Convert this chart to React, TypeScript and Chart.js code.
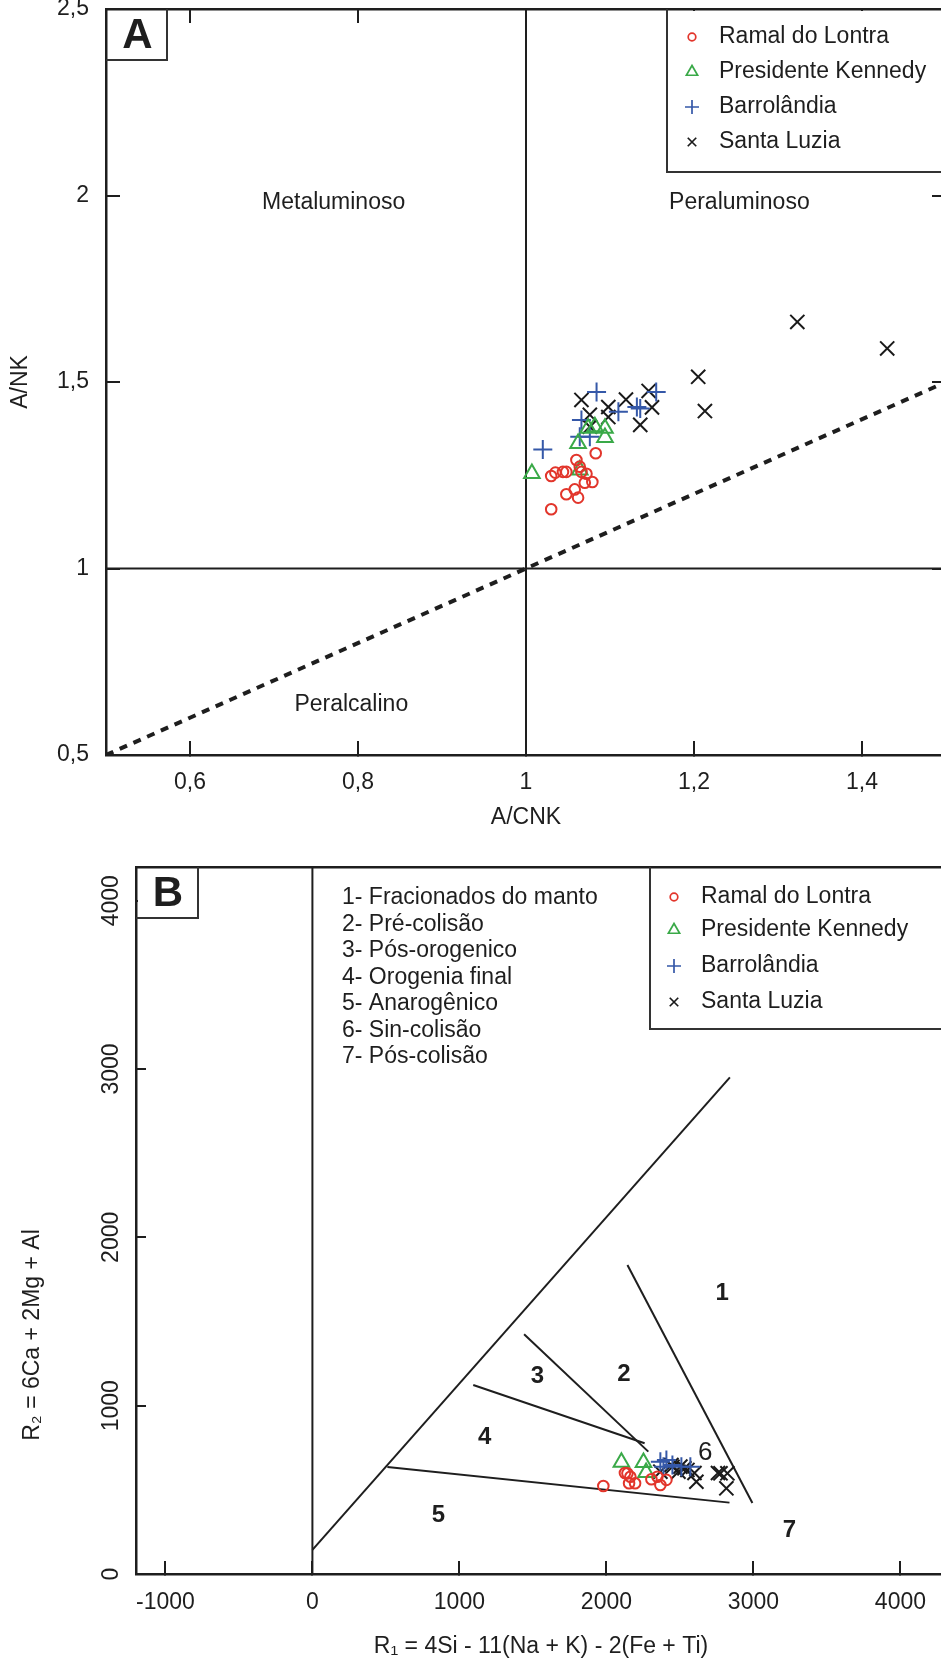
import React, { useEffect, useRef } from 'react';
import { Chart, registerables } from 'chart.js';

Chart.register(...registerables);

const FONT = "'Liberation Sans', Arial, Helvetica, sans-serif";
const INK = '#1e1e1e';
const RED = '#e2352b';
const GREEN = '#3aa948';
const BLUE = '#3558a8';
const BLACK = '#1a1a1a';

type Pt = [number, number];

// ---------------- Panel A : A/NK vs A/CNK ----------------
const xTicksA = [0.6, 0.8, 1, 1.2, 1.4];
const yTicksA = [0.5, 1, 1.5, 2, 2.5];

const ramalA: Pt[] = [
  [1.030, 1.159], [1.048, 1.199], [1.062, 1.190], [1.058, 1.212], [1.030, 1.248],
  [1.035, 1.257], [1.044, 1.259], [1.048, 1.259], [1.060, 1.291], [1.064, 1.273],
  [1.066, 1.259], [1.072, 1.254], [1.070, 1.230], [1.079, 1.232], [1.083, 1.309],
];
const kennedyA: Pt[] = [
  [1.007, 1.255], [1.062, 1.335], [1.064, 1.264], [1.074, 1.376], [1.082, 1.380],
  [1.094, 1.376], [1.094, 1.351],
];
const barrolandiaA: Pt[] = [
  [1.020, 1.319], [1.066, 1.398], [1.064, 1.353], [1.076, 1.353], [1.084, 1.473],
  [1.110, 1.420], [1.132, 1.433], [1.136, 1.429], [1.155, 1.473],
];
const santaLuziaA: Pt[] = [
  [1.066, 1.452], [1.076, 1.412], [1.076, 1.380], [1.098, 1.433], [1.098, 1.406],
  [1.119, 1.453], [1.146, 1.476], [1.150, 1.432], [1.136, 1.385], [1.205, 1.514],
  [1.213, 1.422], [1.323, 1.661], [1.430, 1.590],
];
const lineA_acnk1: Pt[] = [[1, 0.5], [1, 2.5]];
const lineA_ank1: Pt[] = [[0.5, 1], [1.5, 1]];
const lineA_diag: Pt[] = [[0.5, 0.5], [1.5, 1.5]];
const fieldNamesA = ['Metaluminoso', 'Peraluminoso', 'Peralcalino'];
const fieldXA = [0.771, 1.254, 0.792];
const fieldYA = [1.98, 1.98, 0.634];

// ---------------- Panel B : R1-R2 ----------------
const xTicksB = [-1000, 0, 1000, 2000, 3000, 4000];
const yTicksB = [0, 1000, 2000, 3000, 4000];

const ramalB: Pt[] = [
  [1979, 523], [2126, 600], [2143, 598], [2163, 578], [2154, 539], [2195, 539],
  [2306, 563], [2347, 578], [2367, 529], [2408, 559],
];
const kennedyB: Pt[] = [[2102, 664], [2252, 662], [2270, 603]];
const barrolandiaB: Pt[] = [
  [2367, 667], [2388, 637], [2408, 677], [2449, 648], [2510, 637], [2571, 637],
];
const santaLuziaB: Pt[] = [
  [2367, 608], [2442, 648], [2449, 637], [2490, 608], [2503, 638], [2531, 628],
  [2551, 618], [2599, 600], [2612, 548], [2759, 600], [2776, 598], [2823, 598], [2816, 509],
];
const lineB_r1zero: Pt[] = [[0, 0], [0, 4200]];
const lineB_upper: Pt[] = [[0, 143], [2840, 2950]];
const lineB_45: Pt[] = [[510, 636], [2837, 424]];
const lineB_34: Pt[] = [[1094, 1123], [2260, 777]];
const lineB_23: Pt[] = [[1440, 1424], [2285, 727]];
const lineB_12: Pt[] = [[2143, 1836], [2993, 422]];
const fieldNumsB = ['1', '2', '3', '4', '5', '6', '7'];
const fieldXB = [2788, 2119, 1531, 1172, 857, 2673, 3245];
const fieldYB = [1668, 1188, 1176, 812, 351, 719, 261];
const fieldNotesB = [
  '1- Fracionados do manto',
  '2- Pré-colisão',
  '3- Pós-orogenico',
  '4- Orogenia final',
  '5- Anarogênico',
  '6- Sin-colisão',
  '7- Pós-colisão',
];
const yTitleB = 'R₂ = 6Ca + 2Mg + Al';
const xTitleB = 'R₁ = 4Si - 11(Na + K) - 2(Fe + Ti)';

const seriesNames = ['Ramal do Lontra', 'Presidente Kennedy', 'Barrolândia', 'Santa Luzia'];
const seriesStyles = ['circle', 'triangle', 'cross', 'crossRot'];
const seriesColors = [RED, GREEN, BLUE, BLACK];
const seriesRadius = [5.3, 9, 9.5, 10];
const legendRadius = [3.8, 6.5, 7, 6];

// ---------------- helpers ----------------
const fmt = (v: number) => String(v).replace('.', ',');

function pointDataset(i: number, pts: Pt[]) {
  return {
    label: seriesNames[i],
    data: pts.map(([x, y]) => ({ x, y })),
    pointStyle: seriesStyles[i],
    pointRadius: seriesRadius[i],
    pointHoverRadius: seriesRadius[i],
    borderColor: seriesColors[i],
    pointBorderColor: seriesColors[i],
    backgroundColor: 'rgba(0,0,0,0)',
    pointBackgroundColor: 'rgba(0,0,0,0)',
    pointBorderWidth: 2,
    showLine: false,
  };
}

function lineDataset(pts: Pt[], width: number, dash: number[] = []) {
  return {
    data: pts.map(([x, y]) => ({ x, y })),
    showLine: true,
    pointRadius: 0,
    pointHoverRadius: 0,
    borderColor: INK,
    borderWidth: width,
    borderDash: dash,
    borderCapStyle: 'butt',
    fill: false,
    tension: 0,
  };
}

function drawMarker(ctx: CanvasRenderingContext2D, kind: string, x: number, y: number, r: number, color: string) {
  ctx.save();
  ctx.strokeStyle = color;
  ctx.lineWidth = 1.7;
  ctx.beginPath();
  if (kind === 'circle') {
    ctx.arc(x, y, r, 0, Math.PI * 2);
  } else if (kind === 'triangle') {
    ctx.moveTo(x, y - r);
    ctx.lineTo(x + r * 0.866, y + r * 0.5);
    ctx.lineTo(x - r * 0.866, y + r * 0.5);
    ctx.closePath();
  } else if (kind === 'cross') {
    ctx.moveTo(x - r, y); ctx.lineTo(x + r, y);
    ctx.moveTo(x, y - r); ctx.lineTo(x, y + r);
  } else {
    const d = r * 0.7071;
    ctx.moveTo(x - d, y - d); ctx.lineTo(x + d, y + d);
    ctx.moveTo(x + d, y - d); ctx.lineTo(x - d, y + d);
  }
  ctx.stroke();
  ctx.restore();
}

const fixSize = (w: number | null, h: number | null) => (s: any) => {
  if (w !== null) s.width = w;
  if (h !== null) s.height = h;
  s.paddingLeft = 0; s.paddingRight = 0; s.paddingTop = 0; s.paddingBottom = 0;
};
const setTicks = (vals: number[]) => (s: any) => { s.ticks = vals.map((v) => ({ value: v })); };

const grid = (len: number, draw = true) => ({
  drawOnChartArea: false,
  drawTicks: draw,
  tickLength: len,
  tickColor: INK,
  tickWidth: 2,
  color: INK,
  lineWidth: 2,
});
const border = { display: true, color: INK, width: 2.5 };
const tickFont = { family: FONT, size: 23 };

interface Deco {
  labels: { text: string; x: number; y: number; font: string }[];
  letter: string;
  letterBox: [number, number, number, number];
  legendBox: [number, number, number];
  legendRows: number[];
  legendMarkerX: number;
  legendTextX: number;
  notes?: { x: number; y0: number; dy: number };
  yTitle?: { text: string; x: number; y: number };
}

function decoPlugin(d: Deco) {
  return {
    id: 'decor',
    afterDatasetsDraw(chart: any) {
      const ctx: CanvasRenderingContext2D = chart.ctx;
      const xs = chart.scales.x;
      const ys = chart.scales.y;
      ctx.save();
      ctx.fillStyle = INK;
      ctx.textAlign = 'center';
      ctx.textBaseline = 'middle';
      for (const l of d.labels) {
        ctx.font = l.font;
        ctx.fillText(l.text, xs.getPixelForValue(l.x), ys.getPixelForValue(l.y));
      }
      ctx.restore();
    },
    afterDraw(chart: any) {
      const ctx: CanvasRenderingContext2D = chart.ctx;
      ctx.save();
      // panel letter box
      const [l, t, r, b] = d.letterBox;
      ctx.fillStyle = '#fff';
      ctx.fillRect(l + 2, t + 2, r - l - 2, b - t - 2);
      ctx.strokeStyle = '#333';
      ctx.lineWidth = 2;
      ctx.beginPath();
      ctx.moveTo(r, t); ctx.lineTo(r, b); ctx.lineTo(l, b);
      ctx.stroke();
      ctx.fillStyle = INK;
      ctx.font = `bold 42px ${FONT}`;
      ctx.textAlign = 'center';
      ctx.textBaseline = 'middle';
      ctx.fillText(d.letter, (l + r) / 2 + 1, (t + b) / 2 + 2);
      // legend box
      const [ll, lt, lb] = d.legendBox;
      const W = chart.width;
      ctx.fillStyle = '#fff';
      ctx.fillRect(ll + 1, lt + 2, W - ll, lb - lt - 2);
      ctx.strokeStyle = '#333';
      ctx.lineWidth = 2;
      ctx.beginPath();
      ctx.moveTo(ll, lt); ctx.lineTo(ll, lb); ctx.lineTo(W, lb);
      ctx.stroke();
      ctx.font = `23px ${FONT}`;
      ctx.textAlign = 'left';
      ctx.textBaseline = 'middle';
      d.legendRows.forEach((y, i) => {
        drawMarker(ctx, seriesStyles[i], d.legendMarkerX, y, legendRadius[i], seriesColors[i]);
        ctx.fillStyle = INK;
        ctx.fillText(seriesNames[i], d.legendTextX, y);
      });
      if (d.notes) {
        ctx.font = `23px ${FONT}`;
        ctx.fillStyle = INK;
        fieldNotesB.forEach((s, i) => ctx.fillText(s, d.notes!.x, d.notes!.y0 + i * d.notes!.dy));
      }
      if (d.yTitle) {
        ctx.save();
        ctx.translate(d.yTitle.x, d.yTitle.y);
        ctx.rotate(-Math.PI / 2);
        ctx.font = `23px ${FONT}`;
        ctx.fillStyle = INK;
        ctx.textAlign = 'center';
        ctx.textBaseline = 'middle';
        ctx.fillText(d.yTitle.text, 0, 0);
        ctx.restore();
      }
      ctx.restore();
    },
  };
}

function baseOptions() {
  return {
    animation: false,
    responsive: false,
    maintainAspectRatio: false,
    events: [],
    layout: { padding: 0, autoPadding: false },
    plugins: { legend: { display: false }, tooltip: { enabled: false }, title: { display: false } },
  };
}

function configA(): any {
  const deco: Deco = {
    labels: fieldNamesA.map((text, i) => ({ text, x: fieldXA[i], y: fieldYA[i], font: `23px ${FONT}` })),
    letter: 'A',
    letterBox: [106, 9, 167, 60],
    legendBox: [667, 9, 172],
    legendRows: [37, 72, 107, 142],
    legendMarkerX: 692,
    legendTextX: 719,
  };
  return {
    type: 'scatter',
    data: {
      datasets: [
        pointDataset(0, ramalA),
        pointDataset(1, kennedyA),
        pointDataset(2, barrolandiaA),
        pointDataset(3, santaLuziaA),
        lineDataset(lineA_acnk1, 2),
        lineDataset(lineA_ank1, 2),
        lineDataset(lineA_diag, 4, [8, 7]),
      ],
    },
    options: {
      ...baseOptions(),
      scales: {
        x: {
          type: 'linear', position: 'bottom', min: 0.5, max: 1.5,
          afterBuildTicks: setTicks(xTicksA), afterFit: fixSize(null, 85),
          grid: grid(-14), border,
          ticks: { font: tickFont, color: INK, padding: 28.2, autoSkip: false, maxRotation: 0, callback: (v: number) => fmt(v) },
          title: { display: true, text: 'A/CNK', font: tickFont, color: INK, padding: { top: 0, bottom: 8.2 } },
        },
        x2: {
          type: 'linear', position: 'top', min: 0.5, max: 1.5,
          afterBuildTicks: setTicks(xTicksA), afterFit: fixSize(null, 9),
          grid: grid(-14), border, ticks: { display: false },
        },
        y: {
          type: 'linear', position: 'left', min: 0.5, max: 2.5,
          afterBuildTicks: setTicks(yTicksA), afterFit: fixSize(106, null),
          grid: grid(-14), border,
          ticks: { font: tickFont, color: INK, padding: 31, autoSkip: false, callback: (v: number) => fmt(v) },
          title: { display: true, text: 'A/NK', font: tickFont, color: INK, padding: { top: 7.2, bottom: 0 } },
        },
        y2: {
          type: 'linear', position: 'right', min: 0.5, max: 2.5,
          afterBuildTicks: setTicks(yTicksA), afterFit: fixSize(4, null),
          grid: grid(-14), border, ticks: { display: false },
        },
      },
    },
    plugins: [decoPlugin(deco)],
  };
}

function configB(): any {
  const deco: Deco = {
    labels: fieldNumsB.map((text, i) => ({
      text, x: fieldXB[i], y: fieldYB[i],
      font: text === '6' ? `26px ${FONT}` : `bold 24px ${FONT}`,
    })),
    letter: 'B',
    letterBox: [136, 27, 198, 78],
    legendBox: [650, 27, 189],
    legendRows: [57, 90, 126, 162],
    legendMarkerX: 674,
    legendTextX: 701,
    notes: { x: 342, y0: 58, dy: 26.5 },
    yTitle: { text: yTitleB, x: 33, y: 495 },
  };
  return {
    type: 'scatter',
    data: {
      datasets: [
        pointDataset(0, ramalB),
        pointDataset(1, kennedyB),
        pointDataset(2, barrolandiaB),
        pointDataset(3, santaLuziaB),
        lineDataset(lineB_r1zero, 2),
        lineDataset(lineB_upper, 2),
        lineDataset(lineB_45, 2),
        lineDataset(lineB_34, 2),
        lineDataset(lineB_23, 2),
        lineDataset(lineB_12, 2),
      ],
    },
    options: {
      ...baseOptions(),
      scales: {
        x: {
          type: 'linear', position: 'bottom', min: -1200, max: 4310,
          afterBuildTicks: setTicks(xTicksB), afterFit: fixSize(null, 87),
          grid: grid(-13), border,
          ticks: { font: tickFont, color: INK, padding: 28.2, autoSkip: false, maxRotation: 0, callback: (v: number) => String(v) },
          title: { display: true, text: xTitleB, font: tickFont, color: INK, padding: { top: 0, bottom: 0.5 } },
        },
        x2: {
          type: 'linear', position: 'top', min: -1200, max: 4310,
          afterBuildTicks: setTicks(xTicksB), afterFit: fixSize(null, 27),
          grid: grid(0, false), border, ticks: { display: false },
        },
        y: {
          type: 'linear', position: 'left', min: 0, max: 4200,
          afterBuildTicks: setTicks(yTicksB), afterFit: fixSize(136, null),
          grid: grid(-10), border,
          ticks: {
            font: tickFont, color: INK, padding: 8.4, autoSkip: false,
            minRotation: 90, maxRotation: 90, crossAlign: 'center',
            callback: (v: number) => String(v),
          },
          title: { display: false },
        },
        y2: {
          type: 'linear', position: 'right', min: 0, max: 4200,
          afterBuildTicks: setTicks(yTicksB), afterFit: fixSize(4, null),
          grid: grid(0, false), border, ticks: { display: false },
        },
      },
    },
    plugins: [decoPlugin(deco)],
  };
}

export default function App() {
  const refA = useRef<HTMLCanvasElement>(null);
  const refB = useRef<HTMLCanvasElement>(null);

  useEffect(() => {
    const a = new Chart(refA.current as HTMLCanvasElement, configA());
    const b = new Chart(refB.current as HTMLCanvasElement, configB());
    return () => {
      a.destroy();
      b.destroy();
    };
  }, []);

  return (
    <div
      style={{
        position: 'absolute', left: 0, top: 0, width: 941, height: 1661,
        overflow: 'hidden', background: '#ffffff',
      }}
    >
      <canvas
        ref={refA}
        width={950}
        height={840}
        style={{ position: 'absolute', left: 0, top: 0, width: 950, height: 840 }}
      />
      <canvas
        ref={refB}
        width={950}
        height={821}
        style={{ position: 'absolute', left: 0, top: 840, width: 950, height: 821 }}
      />
    </div>
  );
}
